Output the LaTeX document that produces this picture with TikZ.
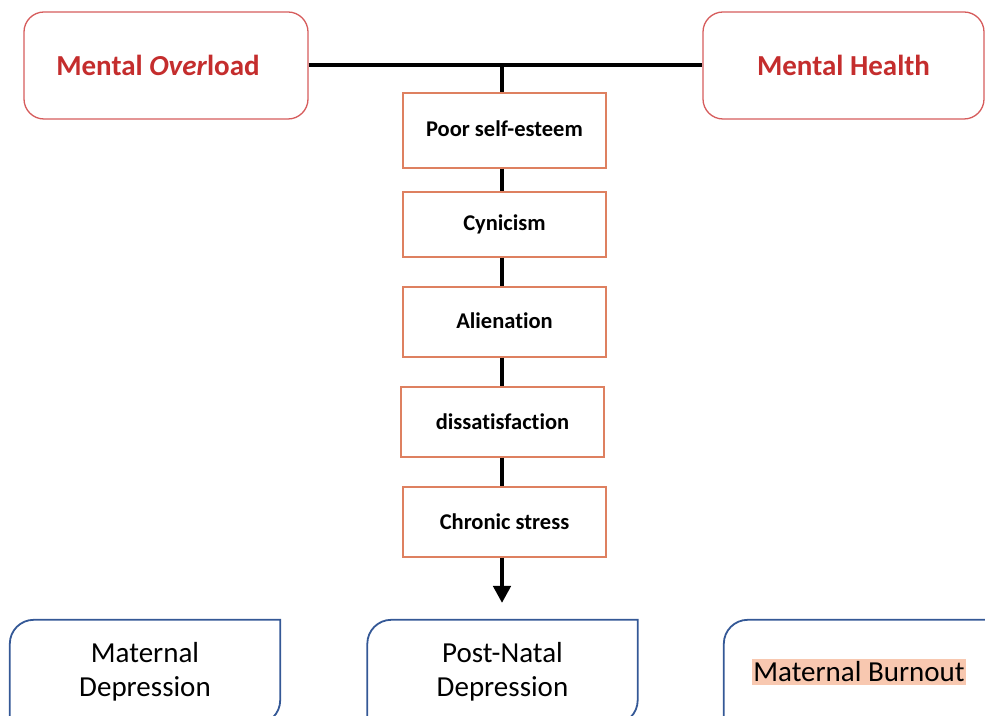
\documentclass[tikz,border=0pt]{standalone}
\usepackage{fontspec}
\setmainfont[Ligatures=NoCommon]{Carlito}
\usetikzlibrary{arrows.meta}
\definecolor{topred}{RGB}{196,45,45}
\definecolor{topredline}{RGB}{214,92,92}
\definecolor{orangeline}{RGB}{222,128,96}
\definecolor{blueline}{RGB}{52,88,150}
\definecolor{peach}{RGB}{248,200,176}
\begin{document}
\begin{tikzpicture}[x=1pt,y=1pt,
  topbox/.style={draw=topredline, line width=1.3pt, rounded corners=20pt, minimum width=284pt, minimum height=107pt, inner sep=0pt, text=topred, font=\fontsize{29}{33}\selectfont\bfseries},
  stepbox/.style={draw=orangeline, line width=1.3pt, minimum width=203pt, inner sep=0pt, font=\fontsize{22.5}{26}\selectfont\bfseries},
  outbox/.style={draw=none, minimum width=270pt, minimum height=104pt, inner sep=0pt, align=center, font=\fontsize{29}{34}\selectfont},
  bline/.style={line width=4.5pt, black},
  outline/.style={draw=blueline, line width=1.8pt}
]
\useasboundingbox (0,0) rectangle (985,715);
\clip (0,0) rectangle (985,715);
\node[topbox] (mo) at (166,649.5) {Mental \textit{Over}load\hspace*{16pt}};
\node[topbox, minimum width=281pt] (mh) at (843.5,649.5) {Mental Health};
\draw[bline, line width=4pt] (mo.east) -- (mh.west);
\coordinate (junc) at (502,650);
\node[stepbox, minimum height=75pt] (pse) at (504.5,584.5) {\raisebox{3pt}{Poor self-esteem}};
\node[stepbox, minimum height=65pt] (cyn) at (504.5,490.5) {Cynicism};
\node[stepbox, minimum height=70pt] (ali) at (504.5,393) {\raisebox{3pt}{Alienation}};
\node[stepbox, minimum height=70pt] (dis) at (502.5,293) {dissatisfaction};
\node[stepbox, minimum height=70pt] (cs) at (504.5,193) {Chronic stress};
\coordinate (tip) at (502,112);
\draw[bline] (junc) -- (junc |- pse.north);
\draw[bline] (502,0 |- pse.south) -- (502,0 |- cyn.north);
\draw[bline] (502,0 |- cyn.south) -- (502,0 |- ali.north);
\draw[bline] (502,0 |- ali.south) -- (502,0 |- dis.north);
\draw[bline] (502,0 |- dis.south) -- (502,0 |- cs.north);
\draw[bline, -{Triangle[length=17pt,width=17pt]}] (502,0 |- cs.south) -- (tip);
\node[outbox] (md) at (145,43) {Maternal\\Depression};
\node[outbox] (pnd) at (502.5,43) {Post-Natal\\Depression};
\node[outbox, minimum width=271pt] (mb) at (859.5,43) {};
\node[fill=peach, inner xsep=1pt, inner ysep=3pt, font=\fontsize{29}{33}\selectfont] (mbt) at (859,43) {Maternal Burnout};
\foreach \b in {md,pnd} {
  \draw[outline] (\b.south west) -- ([yshift=-24pt]\b.north west) arc[start angle=180,end angle=90,radius=24pt] -- (\b.north east) -- ([yshift=24pt]\b.south east) arc[start angle=0,end angle=-90,radius=24pt] -- cycle;
}
\draw[outline] (mb.south west) -- ([yshift=-24pt]mb.north west) arc[start angle=180,end angle=90,radius=24pt] -- ([xshift=20pt]mb.north east);
\end{tikzpicture}
\end{document}
